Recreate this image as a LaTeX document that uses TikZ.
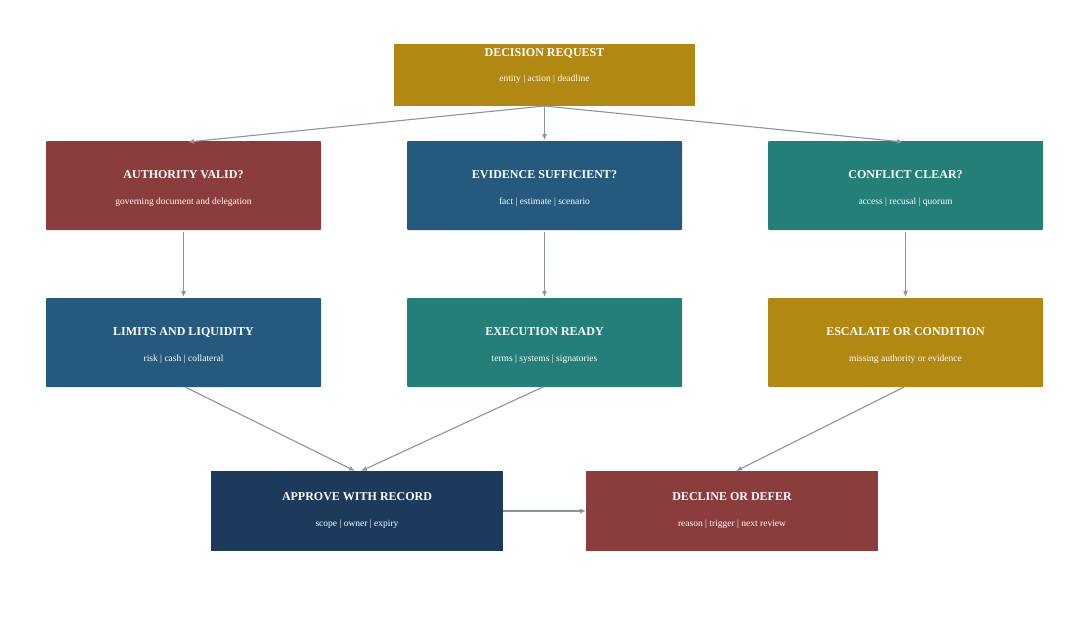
\documentclass[tikz,border=0pt]{standalone}
\usepackage{fontspec}
\setmainfont{Liberation Serif}
\usetikzlibrary{arrows.meta}
\definecolor{cgold}{HTML}{B08812}
\definecolor{cred}{HTML}{8B3C3C}
\definecolor{cblue}{HTML}{255A7E}
\definecolor{cteal}{HTML}{247F78}
\definecolor{cnavy}{HTML}{1B3A5C}
\definecolor{cline}{HTML}{8A94A3}
\tikzset{
 box/.style={draw=none,rounded corners=1pt,inner sep=0pt},
 ttl/.style={text=white,font=\fontsize{12}{12}\selectfont\bfseries},
 sub/.style={text=white,font=\fontsize{9.5}{10}\selectfont},
 arr/.style={draw=cline,line width=1.1pt,-{Latex[length=6pt,width=5pt]}}
}
\begin{document}
\begin{tikzpicture}[x=1pt,y=-1pt]
\useasboundingbox (0,0) rectangle (1089,629);
\newcommand\mybox[8]{% name x1 y1 x2 y2 color title sub
 \fill[box,#6] (#2,#3) rectangle (#4,#5);
 \coordinate (#1-n) at ({(#2+#4)/2},#3);
 \coordinate (#1-s) at ({(#2+#4)/2},#5);
 \coordinate (#1-w) at (#2,{(#3+#5)/2});
 \coordinate (#1-e) at (#4,{(#3+#5)/2});
 \node[ttl] (#1-t) at ({(#2+#4)/2},#3+34) {#7};
 \node[sub] (#1-u) at ({(#2+#4)/2},#3+61) {#8};
}
\fill[cgold] (394,44) rectangle (695,106);
\coordinate (req-s) at (544.5,106);
\node[ttl] (req-t) at (544.5,53) {DECISION REQUEST};
\node[sub] (req-u) at (544.5,79) {entity | action | deadline};
\mybox{auth}{46}{141}{321}{230}{cred}{AUTHORITY VALID?}{governing document and delegation}
\mybox{evid}{407}{141}{682}{230}{cblue}{EVIDENCE SUFFICIENT?}{fact | estimate | scenario}
\mybox{conf}{768}{141}{1043}{230}{cteal}{CONFLICT CLEAR?}{access | recusal | quorum}
\mybox{lim}{46}{298}{321}{387}{cblue}{LIMITS AND LIQUIDITY}{risk | cash | collateral}
\mybox{exe}{407}{298}{682}{387}{cteal}{EXECUTION READY}{terms | systems | signatories}
\mybox{esc}{768}{298}{1043}{387}{cgold}{ESCALATE OR CONDITION}{missing authority or evidence}
\begin{scope}[every node/.append style={}]
\fill[cnavy] (211,471) rectangle (503,551);
\node[ttl] (app-t) at (357,497) {APPROVE WITH RECORD};
\node[sub] (app-u) at (357,524) {scope | owner | expiry};
\fill[cred] (586,471) rectangle (878,551);
\node[ttl] (dec-t) at (732,497) {DECLINE OR DEFER};
\node[sub] (dec-u) at (732,524) {reason | trigger | next review};
\end{scope}
\coordinate (app-e) at (503,511);
\coordinate (dec-w) at (586,511);
\draw[arr] (req-s) -- (188,142);
\draw[arr] (req-s) -- (544.5,140);
\draw[arr] (req-s) -- (903,142);
\draw[arr] (183.5,232) -- (183.5,297);
\draw[arr] (544.5,232) -- (544.5,297);
\draw[arr] (905.5,232) -- (905.5,297);
\draw[arr] (185,387) -- (355,471);
\draw[arr] (543,387) -- (361,471);
\draw[arr] (904,387) -- (736,471);
\draw[arr] (app-e) -- (dec-w);
\end{tikzpicture}
\end{document}
